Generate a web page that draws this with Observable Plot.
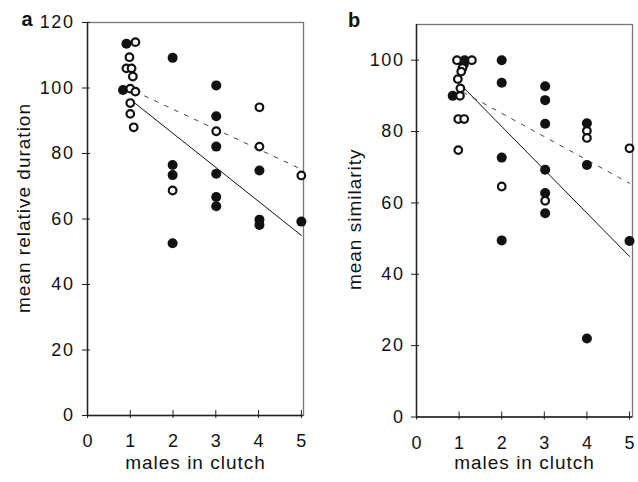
<!DOCTYPE html>
<html><head><meta charset="utf-8">
<script src="https://cdn.jsdelivr.net/npm/d3@7"></script>
<script src="https://cdn.jsdelivr.net/npm/@observablehq/plot@0.6"></script>
<style>
body{margin:0;background:#fff}
#wrap{position:relative;width:638px;height:482px;overflow:hidden;background:#fff}
#wrap svg{position:absolute;top:0}
#wrap svg text{letter-spacing:1px}
#wrap svg g.ticklab text{letter-spacing:1.6px}
</style></head><body><div id="wrap"></div>
<script>
// ---------- shared ----------
const xTicks = [0, 1, 2, 3, 4, 5];
const xLabel = "males in clutch";

// ---------- panel a ----------
const aLetter = "a";
const aYLabel = "mean relative duration";
const aYTicks = [0, 20, 40, 60, 80, 100, 120];
const aFilledX = [0.91, 0.83, 1.99, 1.99, 1.99, 1.99, 3.01, 3.01, 3.01, 3.01, 3.01, 3.01, 4.02, 4.02, 4.02, 5.0];
const aFilledY = [113.5, 99.4, 109.2, 76.5, 73.4, 52.6, 100.8, 91.4, 82.1, 73.8, 66.7, 63.9, 74.8, 59.8, 58.2, 59.2];
const aOpenX = [1.12, 0.98, 0.91, 1.03, 1.06, 1.0, 1.12, 1.0, 1.0, 1.08, 1.99, 3.01, 4.02, 4.02, 5.0];
const aOpenY = [114, 109.4, 106, 106, 103.5, 99.8, 98.9, 95.4, 92.1, 88, 68.7, 86.8, 94.1, 82.1, 73.3];
const aSolidX = [1.0, 5.0], aSolidY = [96.5, 55];
const aDashX = [1.1, 5.0], aDashY = [99, 75.2];

// ---------- panel b ----------
const bLetter = "b";
const bYLabel = "mean similarity";
const bYTicks = [0, 20, 40, 60, 80, 100];
const bFilledX = [0.85, 1.13, 1.11, 2.0, 2.0, 2.0, 2.0, 3.02, 3.02, 3.02, 3.02, 3.02, 3.02, 4.0, 4.0, 4.0, 5.0];
const bFilledY = [90, 100, 98.8, 100, 93.7, 72.7, 49.5, 92.7, 88.8, 82.2, 69.3, 62.8, 57.1, 82.3, 70.6, 22, 49.3];
const bOpenX = [0.95, 1.3, 1.08, 1.05, 0.97, 1.03, 1.02, 0.98, 1.12, 0.98, 2.0, 3.02, 4.0, 4.0, 5.0];
const bOpenY = [100, 100, 97.8, 96.8, 94.7, 92.1, 90, 83.5, 83.5, 74.8, 64.6, 60.6, 80.2, 78.2, 75.3];
const bSolidX = [1.03, 5.0], bSolidY = [93.2, 45];
const bDashX = [1.1, 5.0], bDashY = [91, 65.5];

const zip = (xs, ys) => xs.map((x, i) => ({x, y: ys[i]}));
const FONT = "'Liberation Sans', Arial, Helvetica, sans-serif";

function panel(o) {
  return Plot.plot({
    width: o.width, height: 482,
    marginLeft: o.ml, marginRight: o.mr, marginTop: o.mt, marginBottom: o.mb,
    style: {fontFamily: FONT, fontSize: "17px", color: "#111", background: "transparent"},
    x: {domain: [0, o.xmax]},
    y: {domain: [0, o.ymax]},
    marks: [
      Plot.frame({stroke: "#777", strokeWidth: 1.3}),
      Plot.ruleX([0], {stroke: "#222", strokeWidth: 1.4}),
      Plot.ruleY([0], {stroke: "#222", strokeWidth: 1.4}),
      Plot.axisY(o.yTicks, {tickSize: 8, dx: 3, tickFormat: () => "", label: null, stroke: "#222"}),
      Plot.axisX(xTicks, {tickSize: 8, dy: -5, tickFormat: () => "", label: null, stroke: "#222"}),
      Plot.text(o.yTicks, {y: d => d, text: d => String(d), frameAnchor: "left", textAnchor: "end", dx: o.tdx, fontSize: 18, fill: "#111", className: "ticklab"}),
      Plot.text(xTicks, {x: d => d, text: d => String(d), frameAnchor: "bottom", textAnchor: "middle", lineAnchor: "top", dy: 19, dx: 0.8, fontSize: 18, fill: "#111", className: "ticklab"}),
      Plot.line(zip(o.solidX, o.solidY), {x: "x", y: "y", stroke: "#111", strokeWidth: 1}),
      Plot.line(zip(o.dashX, o.dashY), {x: "x", y: "y", stroke: "#444", strokeWidth: 1, strokeDasharray: "4,7"}),
      Plot.dot(zip(o.filledX, o.filledY), {x: "x", y: "y", r: 5, fill: "#111", stroke: "none"}),
      Plot.dot(zip(o.openX, o.openY), {x: "x", y: "y", r: 3.8, fill: "white", stroke: "#111", strokeWidth: 2.2}),
      Plot.text([o.yLabel], {frameAnchor: "left", textAnchor: "middle", dx: o.ylDx, dy: o.ylDy, rotate: -90, fontSize: 19, fill: "#111"}),
      Plot.text([xLabel], {frameAnchor: "bottom", textAnchor: "middle", dy: o.xlDy, fontSize: 19, fill: "#111"}),
      Plot.text([o.letter], {frameAnchor: "top-left", textAnchor: "middle", dx: o.lDx, dy: o.lDy, lineAnchor: "bottom", fontSize: 20, fontWeight: "bold", fill: "#111"})
    ]
  });
}

const wrap = document.getElementById("wrap");
const pa = panel({
  width: 320, ml: 87, mr: 17, mt: 22, mb: 67, xmax: 5.05, ymax: 120, yTicks: aYTicks, tdx: -13,
  filledX: aFilledX, filledY: aFilledY, openX: aOpenX, openY: aOpenY,
  solidX: aSolidX, solidY: aSolidY, dashX: aDashX, dashY: aDashY,
  yLabel: aYLabel, ylDx: -64, ylDy: -11, xlDy: 53, letter: aLetter, lDx: -60, lDy: 3
});
pa.style.left = "0px";
const pb = panel({
  width: 318, ml: 96, mr: 6, mt: 24, mb: 65.5, xmax: 5.07, ymax: 110, yTicks: bYTicks, tdx: -12,
  filledX: bFilledX, filledY: bFilledY, openX: bOpenX, openY: bOpenY,
  solidX: bSolidX, solidY: bSolidY, dashX: bDashX, dashY: bDashY,
  yLabel: bYLabel, ylDx: -62, ylDy: -1.5, xlDy: 52, letter: bLetter, lDx: -62, lDy: 2.5
});
pb.style.left = "320px";
wrap.appendChild(pa);
wrap.appendChild(pb);
</script></body></html>
